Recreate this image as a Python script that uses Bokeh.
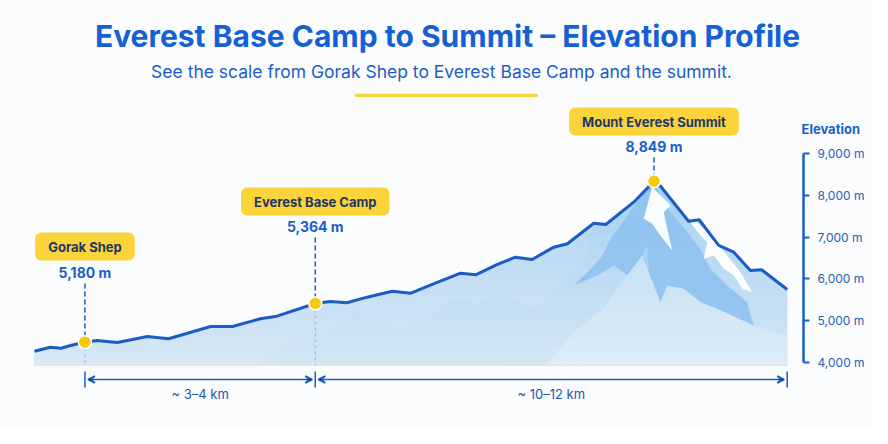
import numpy as np
from bokeh.plotting import figure
from bokeh.models import Label, FixedTicker, Arrow, VeeHead, Range1d, LinearAxis
from bokeh.embed import file_html
from bokeh.resources import INLINE

# profile along the route (distance in arbitrary units 0..100, elevation in m as drawn)
dist = [0, 2.1, 3.5, 4.8, 6.7, 8.3, 11.0, 15.0, 17.8, 23.4, 26.3, 30.0, 32.2, 37.3,
        39.3, 41.5, 44.2, 47.5, 50.0, 53.0, 56.6, 58.6, 61.5, 63.9, 66.1, 69.0, 70.8,
        74.3, 75.9, 79.6, 82.3, 83.2, 86.9, 88.3, 90.9, 92.9, 95.1, 96.6, 100]
elev = [4264, 4360, 4336, 4400, 4480, 4520, 4472, 4616, 4561, 4856, 4856, 5041, 5103, 5408,
        5456, 5424, 5559, 5703, 5655, 5880, 6134, 6096, 6343, 6518, 6463, 6758, 6839,
        7333, 7302, 7837, 8340, 8213, 7381, 7415, 6799, 6638, 6199, 6216, 5743]

stop_names = ["Gorak Shep", "Everest Base Camp", "Mount Everest Summit"]
stop_elev_m = [5180, 5364, 8849]
stop_idx = [4, 13, 30]
leg_labels = ["~ 3\u20134 km", "~ 10\u201312 km"]

elev_ticks = [4000, 5000, 6000, 7000, 8000, 9000]

# scenery under the profile (dist, elev)
ridge_d = [29.36, 35.34, 38.0, 42.87, 45.97, 49.06, 56.6, 58.81, 61.91, 66.33, 69.88, 72.98]
ridge_e = [3930, 4760, 4681, 5199, 5000, 4801, 5559, 5400, 5640, 5281, 5880, 6439]
face_d = [81.74, 80.07, 77.85, 76.52, 75.19, 73.43, 71.65, 74.76, 76.96, 78.74, 80.74,
          81.61, 83.17, 84.06, 86.26, 88.48, 90.70, 95.56, 94.69, 92.03, 89.80, 88.48,
          86.71, 84.50, 82.73]
face_e = [8254, 7837, 7278, 6959, 6480, 6158, 5839, 6079, 6319, 6079, 6559, 6158, 5439,
          5839, 5760, 5439, 5281, 4880, 5439, 5839, 6240, 6719, 7117, 7597, 8158]
front_d = [67.89, 72.10, 75.59, 78.74, 80.74, 81.40, 81.61, 83.17, 84.06, 86.26, 88.48,
           90.70, 95.56, 100, 100]
front_e = [3930, 4801, 5288, 6079, 6559, 6798, 6158, 5439, 5839, 5760, 5439, 5281, 4880,
           4640, 3930]
snow1_d = [82.06, 81.40, 80.95, 82.06, 83.17, 84.72, 84.06, 83.61, 84.50, 83.17]
snow1_e = [8197, 7758, 7439, 7319, 7038, 6679, 7199, 7597, 7758, 7997]
snow2_d = [82.94, 84.93, 87.14, 88.48, 89.37, 88.92, 90.25, 91.58, 92.91, 94.02, 95.35,
           93.79, 92.03, 90.70, 88.92, 86.71, 84.50]
snow2_e = [8197, 7837, 7357, 7038, 6878, 6480, 6559, 6240, 6079, 5760, 5679, 6158, 6559,
           6878, 7199, 7597, 7997]

BG = "#fbfcfe"
BLUE = "#1a5bc4"
W, H = 872, 428
X0, X1 = -4.517, 111.33
Y0, Y1 = 2410, 12673


def sx(px):
    return X0 + px * (X1 - X0) / W


def sy(py):
    return Y1 - py * (Y1 - Y0) / H


p = figure(width=W, height=H, x_range=Range1d(X0, X1), y_range=Range1d(Y0, Y1),
           output_backend="svg", toolbar_location=None, x_axis_location=None,
           y_axis_location=None, min_border=0, background_fill_color=BG,
           border_fill_color=BG, outline_line_color=None)
p.grid.visible = False

d = np.array(dist)
e = np.array(elev)
base = sy(365)

# area, darker up high and fading towards the bottom
p.varea(x=d, y1=base, y2=e, fill_color="#a9d3f5")
rd = np.array(ridge_d + [d[i] for i in range(27, len(d))] + [100])
re_ = np.array(ridge_e + [e[i] for i in range(27, len(e))] + [base])
p.patch(rd, re_, fill_color="#8fc3ef", fill_alpha=0.3, line_color=None)
for lev in base + 4500 * np.linspace(0.03, 1, 20) ** 1.6:
    p.varea(x=d, y1=base, y2=np.minimum(e, lev), fill_color="white", fill_alpha=0.05)

p.patch(face_d, face_e, fill_color="#8cc1ee", line_color=None, fill_alpha=0.85)
p.patch(front_d, front_e, fill_color="white", line_color=None, fill_alpha=0.22)
p.patch(snow1_d, snow1_e, fill_color="white", line_color=None, fill_alpha=0.95)
p.patch(snow2_d, snow2_e, fill_color="white", line_color=None, fill_alpha=0.95)

p.line(d, e, line_color=BLUE, line_width=3, line_join="round")

sd = [dist[i] for i in stop_idx]
se = [elev[i] for i in stop_idx]
box_y = [246, 201, 121]
val_y = [272, 226, 146]
dash_top = [283, 237, 157]

p.segment(x0=sd, y0=[sy(v) for v in dash_top], x1=sd, y1=se,
          line_color=BLUE, line_width=1.5, line_dash="5 3")
p.segment(x0=sd[:2], y0=se[:2], x1=sd[:2], y1=[base, base],
          line_color="#8ab8ea", line_width=1, line_dash="3 3")
p.scatter(sd, se, size=13, fill_color="#f9c80e", line_color="white", line_width=1.5)

for name, m, x, by, vy in zip(stop_names, stop_elev_m, sd, box_y, val_y):
    p.add_layout(Label(x=x, y=sy(by), text=name, text_align="center", text_baseline="middle",
                       text_font="Inter", text_font_size="13px", text_font_style="bold",
                       text_color="#1e3766", background_fill_color="#fbd43a",
                       padding=dict(left=13, right=13, top=6, bottom=6), border_radius=6))
    p.add_layout(Label(x=x, y=sy(vy), text=f"{m:,} m", text_align="center",
                       text_baseline="middle", text_font="Inter", text_font_size="14px",
                       text_font_style="bold", text_color="#1a5fc8"))

# distance arrows
ends = [dist[stop_idx[0]], dist[stop_idx[1]], dist[-1]]
p.segment(x0=ends, y0=[sy(371)] * 3, x1=ends, y1=[sy(387)] * 3, line_color=BLUE, line_width=1.5)
for a, b, lab in zip(ends[:-1], ends[1:], leg_labels):
    p.add_layout(Arrow(start=VeeHead(size=7, line_color=BLUE, line_width=1.5),
                       end=VeeHead(size=7, line_color=BLUE, line_width=1.5),
                       x_start=a + 0.4, y_start=sy(379), x_end=b - 0.4, y_end=sy(379),
                       line_color=BLUE, line_width=1.5))
    p.add_layout(Label(x=(a + b) / 2, y=sy(393), text=lab, text_align="center",
                       text_baseline="middle", text_font="Inter", text_font_size="13px",
                       text_color="#1f56a8"))

# elevation axis drawn inside the frame on the right
ax = LinearAxis(fixed_location=sx(803), ticker=FixedTicker(ticks=elev_ticks),
                bounds=(elev_ticks[0], elev_ticks[-1]))
ax.major_label_overrides = {t: f"{t:,} m" for t in elev_ticks}
ax.axis_line_color = "#1a5fc8"
ax.axis_line_width = 2.5
ax.major_tick_line_color = "#1a5fc8"
ax.major_tick_line_width = 2
ax.major_tick_out = 6
ax.major_tick_in = 0
ax.minor_tick_out = 0
ax.minor_tick_in = 0
ax.major_label_standoff = 8
ax.major_label_text_font = "Inter"
ax.major_label_text_font_size = "12px"
ax.major_label_text_color = "#2a5fb8"
p.add_layout(ax, "right")

p.add_layout(Label(x=sx(801), y=sy(128), text="Elevation", text_align="left",
                   text_baseline="middle", text_font="Inter", text_font_size="13px",
                   text_font_style="bold", text_color="#1a5fc8"))

# headings
p.add_layout(Label(x=sx(447), y=sy(35), text="Everest Base Camp to Summit \u2013 Elevation Profile",
                   text_align="center", text_baseline="middle", text_font="Inter",
                   text_font_size="30px", text_font_style="bold", text_color="#1560d2"))
p.add_layout(Label(x=sx(441), y=sy(71),
                   text="See the scale from Gorak Shep to Everest Base Camp and the summit.",
                   text_align="center", text_baseline="middle", text_font="Inter",
                   text_font_size="17.5px", text_color="#1d5dc4"))
p.segment(x0=[sx(356)], y0=[sy(95)], x1=[sx(536)], y1=[sy(95)], line_color="#f5d63d",
          line_width=3.5, line_cap="round")

open("out.html", "w").write(file_html(p, INLINE))
